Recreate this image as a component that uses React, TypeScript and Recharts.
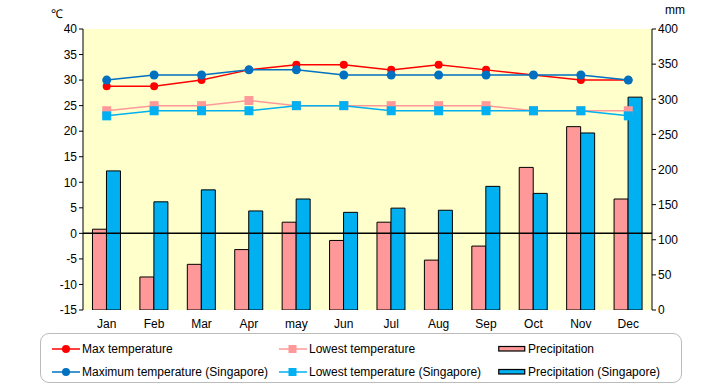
import React from 'react';
import { ComposedChart, Bar, Line, XAxis, YAxis, CartesianGrid, ReferenceLine } from 'recharts';

const months = ['Jan', 'Feb', 'Mar', 'Apr', 'may', 'Jun', 'Jul', 'Aug', 'Sep', 'Oct', 'Nov', 'Dec'];
const maxTemp = [28.8, 28.8, 30, 32, 33, 33, 32, 33, 32, 31, 30, 30];
const lowTemp = [24, 25, 25, 26, 25, 25, 25, 25, 25, 24, 24, 24];
const precip = [115, 47, 65, 86, 125, 99, 125, 71, 91, 203, 261, 158];
const maxTempSg = [30, 31, 31, 32, 32, 31, 31, 31, 31, 31, 31, 30];
const lowTempSg = [23, 24, 24, 24, 25, 25, 24, 24, 24, 24, 24, 23];
const precipSg = [198, 154, 171, 141, 158, 139, 145, 142, 176, 166, 252, 303];
const tempTicks = [-15, -10, -5, 0, 5, 10, 15, 20, 25, 30, 35, 40];
const precipTicks = [0, 50, 100, 150, 200, 250, 300, 350, 400];

const data = months.map((m, i) => ({
  month: m,
  maxTemp: maxTemp[i],
  lowTemp: lowTemp[i],
  precip: precip[i],
  maxTempSg: maxTempSg[i],
  lowTempSg: lowTempSg[i],
  precipSg: precipSg[i],
}));

const FONT = '"Liberation Sans", Arial, sans-serif';

const squareDot = (color: string) => (props: any) => {
  const { cx, cy, index } = props;
  if (cx == null || cy == null) return <g key={index} />;
  return <rect key={index} x={cx - 4.5} y={cy - 4.5} width={9} height={9} fill={color} />;
};

const tickStyle = { fill: '#000', fontSize: 12, fontFamily: FONT };

const LegendLine = ({ color, square }: { color: string; square?: boolean }) => (
  <svg width={28} height={10} style={{ display: 'block' }}>
    <line x1={0} y1={5} x2={28} y2={5} stroke={color} strokeWidth={1.5} />
    {square ? <rect x={9.5} y={1} width={8} height={8} fill={color} /> : <circle cx={14} cy={5} r={4} fill={color} />}
  </svg>
);

const LegendRect = ({ color }: { color: string }) => (
  <svg width={28} height={8} style={{ display: 'block' }}>
    <rect x={0.75} y={1.5} width={26} height={4.5} fill={color} stroke="#000" strokeWidth={1.2} />
  </svg>
);

const legendItems = [
  { label: 'Max temperature', left: 52, top: 343, kind: 'line', color: '#FF0000' },
  { label: 'Lowest temperature', left: 279, top: 343, kind: 'square', color: '#FF9999' },
  { label: 'Precipitation', left: 498, top: 343, kind: 'rect', color: '#FF9999' },
  { label: 'Maximum temperature (Singapore)', left: 52, top: 366, kind: 'line', color: '#0070C0' },
  { label: 'Lowest temperature (Singapore)', left: 279, top: 366, kind: 'square', color: '#00B0F0' },
  { label: 'Precipitation (Singapore)', left: 498, top: 366, kind: 'rect', color: '#00B0F0' },
];

export default function App() {
  return (
    <div style={{ position: 'absolute', left: 0, top: 0, width: 720, height: 385, background: '#fff', fontFamily: FONT }}>
      <ComposedChart
        width={720}
        height={385}
        data={data}
        margin={{ top: 29, right: 28, left: 43, bottom: 50 }}
        barGap={0}
        barCategoryGap="20%"
      >
        <CartesianGrid fill="#FFFFCC" horizontal={false} vertical={false} stroke="none" />
        <XAxis
          dataKey="month"
          axisLine={false}
          tickLine={false}
          tick={tickStyle}
          height={25}
          interval={0}
          tickMargin={3}
        />
        <YAxis
          yAxisId="left"
          domain={[-15, 40]}
          ticks={tempTicks}
          width={40}
          axisLine={{ stroke: '#000', strokeWidth: 1 }}
          tickLine={{ stroke: '#000' }}
          tickSize={4}
          tick={tickStyle}
          allowDataOverflow
        />
        <YAxis
          yAxisId="right"
          orientation="right"
          domain={[0, 400]}
          ticks={precipTicks}
          width={40}
          axisLine={{ stroke: '#000', strokeWidth: 1 }}
          tickLine={{ stroke: '#000' }}
          tickSize={4}
          tick={tickStyle}
          allowDataOverflow
        />
        <Bar yAxisId="right" dataKey="precip" fill="#FF9999" stroke="#000" strokeWidth={1} isAnimationActive={false} />
        <Bar yAxisId="right" dataKey="precipSg" fill="#00B0F0" stroke="#000" strokeWidth={1} isAnimationActive={false} />
        <ReferenceLine yAxisId="left" y={0} stroke="#000" strokeWidth={1.5} />
        <Line
          yAxisId="left"
          dataKey="maxTemp"
          stroke="#FF0000"
          strokeWidth={1.5}
          dot={{ r: 4, fill: '#FF0000', stroke: 'none' }}
          isAnimationActive={false}
        />
        <Line
          yAxisId="left"
          dataKey="lowTemp"
          stroke="#FF9999"
          strokeWidth={1.5}
          dot={squareDot('#FF9999')}
          isAnimationActive={false}
        />
        <Line
          yAxisId="left"
          dataKey="maxTempSg"
          stroke="#0070C0"
          strokeWidth={1.5}
          dot={{ r: 4.5, fill: '#0070C0', stroke: 'none' }}
          isAnimationActive={false}
        />
        <Line
          yAxisId="left"
          dataKey="lowTempSg"
          stroke="#00B0F0"
          strokeWidth={1.5}
          dot={squareDot('#00B0F0')}
          isAnimationActive={false}
        />
      </ComposedChart>
      <div style={{ position: 'absolute', left: 51, top: 5, fontSize: 12, color: '#000' }}>℃</div>
      <div style={{ position: 'absolute', left: 665, top: 3, fontSize: 12, color: '#000' }}>mm</div>
      <div
        style={{
          position: 'absolute',
          left: 40,
          top: 333,
          width: 642,
          height: 50,
          boxSizing: 'border-box',
          border: '1.5px solid #BBBBBB',
          borderRadius: 9,
        }}
      />
      {legendItems.map((it) => (
        <div
          key={it.label}
          style={{ position: 'absolute', left: it.left, top: it.top, height: 12, display: 'flex', alignItems: 'center', fontSize: 12, color: '#000', whiteSpace: 'nowrap' }}
        >
          {it.kind === 'rect' ? <LegendRect color={it.color} /> : <LegendLine color={it.color} square={it.kind === 'square'} />}
          <span style={{ marginLeft: 2 }}>{it.label}</span>
        </div>
      ))}
    </div>
  );
}
